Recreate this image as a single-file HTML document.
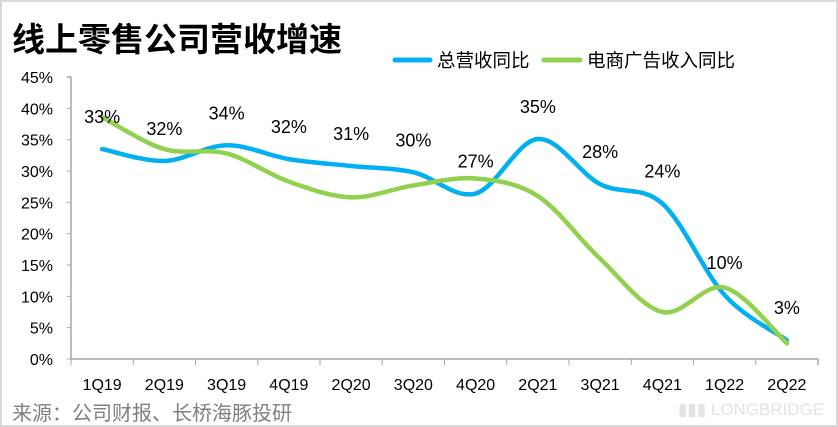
<!DOCTYPE html>
<html><head><meta charset="utf-8"><style>
html,body{margin:0;padding:0;background:#fff;}
#wrap{position:relative;width:838px;height:427px;box-sizing:border-box;border:2px solid #d9d9d9;overflow:hidden;font-family:"Liberation Sans","Noto Sans CJK SC",sans-serif;}
svg{position:absolute;left:0;top:0;}
</style></head><body>
<div id="wrap">
<svg id="c" width="838" height="427">
<text x="10" y="49" font-size="33" font-weight="bold" fill="#000" font-family="'Liberation Sans','Noto Sans CJK SC',sans-serif">线上零售公司营收增速</text>
<g>
<line x1="393" y1="58" x2="428" y2="58" stroke="#00b0f0" stroke-width="5" stroke-linecap="round"/>
<text x="435" y="65" font-size="18.5" fill="#000" font-family="'Liberation Sans','Noto Sans CJK SC',sans-serif">总营收同比</text>
<line x1="542" y1="58" x2="578" y2="58" stroke="#92d050" stroke-width="5" stroke-linecap="round"/>
<text x="585" y="65" font-size="18.5" fill="#000" font-family="'Liberation Sans','Noto Sans CJK SC',sans-serif">电商广告收入同比</text>
</g>
<g id="axes"></g>
<g id="series"></g>
<g id="labels"></g>
<text x="10" y="418" font-size="20" fill="#7f7f7f" font-family="'Liberation Sans','Noto Sans CJK SC',sans-serif">来源：公司财报、长桥海豚投研</text>
<text x="676" y="413" font-size="17" fill="#e3e3e3">▮▮▮ LONGBRIDGE</text>
</svg>
</div>
<script>
const categories=["1Q19","2Q19","3Q19","4Q19","2Q20","3Q20","4Q20","2Q21","3Q21","4Q21","1Q22","2Q22"];
const totalRevenue=[33.5,31.6,34.1,31.9,30.8,29.8,26.4,35.1,27.9,24.8,10.2,3.0];
const adRevenue=[38.6,33.5,32.8,28.3,25.8,27.7,28.8,26.0,16.0,7.5,11.4,2.5];
const valueLabels=["33%","32%","34%","32%","31%","30%","27%","35%","28%","24%","10%","3%"];
const yTicks=[0,5,10,15,20,25,30,35,40,45];
const NS="http://www.w3.org/2000/svg";
const x0=69,x1=816,y0=357,y1=75,yMax=45;
const step=(x1-x0)/categories.length;
const xs=i=>x0+step*(i+0.5);
const ys=v=>y0-(v/yMax)*(y0-y1);
function mk(t,a,p){const e=document.createElementNS(NS,t);for(const k in a)e.setAttribute(k,a[k]);p.appendChild(e);return e;}
const axes=document.getElementById('axes');
const ax=mk('path',{d:`M${x0-4},${y1}H${x0}V${y0}H${x1}V${y0+6}`,fill:'none',stroke:'#a6a6a6','stroke-width':1.5},axes);


yTicks.forEach(v=>{
  const t=mk('text',{x:x0-18,y:ys(v)+6,'font-size':16,'text-anchor':'end',fill:'#000'},axes);
  t.textContent=v+'%';
  
  
  const l=mk('line',{x1:x0-4,x2:x0,y1:ys(v),y2:ys(v),stroke:'#a6a6a6'},axes);
  
  
});
categories.forEach((c,i)=>{
  const l=mk('line',{x1:x0+step*i,x2:x0+step*i,y1:y0,y2:y0+6,stroke:'#a6a6a6'},axes);
  
  
  const t=mk('text',{x:xs(i),y:y0+31,'font-size':16,'text-anchor':'middle',fill:'#000'},axes);
  t.textContent=c;
  
  
});
function smooth(vals){
  const p=vals.map((v,i)=>[xs(i),ys(v)]);
  let d=`M${p[0][0]},${p[0][1]}`;
  for(let i=0;i<p.length-1;i++){
    const a=p[i-1]||p[i],b=p[i],c=p[i+1],e=p[i+2]||c;
    const k=6;
    d+=`C${b[0]+(c[0]-a[0])/k},${b[1]+(c[1]-a[1])/k} ${c[0]-(e[0]-b[0])/k},${c[1]-(e[1]-b[1])/k} ${c[0]},${c[1]}`;
  }
  return d;
}
const sg=document.getElementById('series');
const pt=mk('path',{d:smooth(totalRevenue),fill:'none',stroke:'#00b0f0','stroke-width':4.5,'stroke-linecap':'round'},sg);


const pa=mk('path',{d:smooth(adRevenue),fill:'none',stroke:'#92d050','stroke-width':4.5,'stroke-linecap':'round'},sg);


const lg=document.getElementById('labels');
totalRevenue.forEach((v,i)=>{
  const t=mk('text',{x:xs(i),y:ys(v)-26,'font-size':18,'text-anchor':'middle',fill:'#000'},lg);
  t.textContent=valueLabels[i];
  
  
});
</script>
</body></html>
